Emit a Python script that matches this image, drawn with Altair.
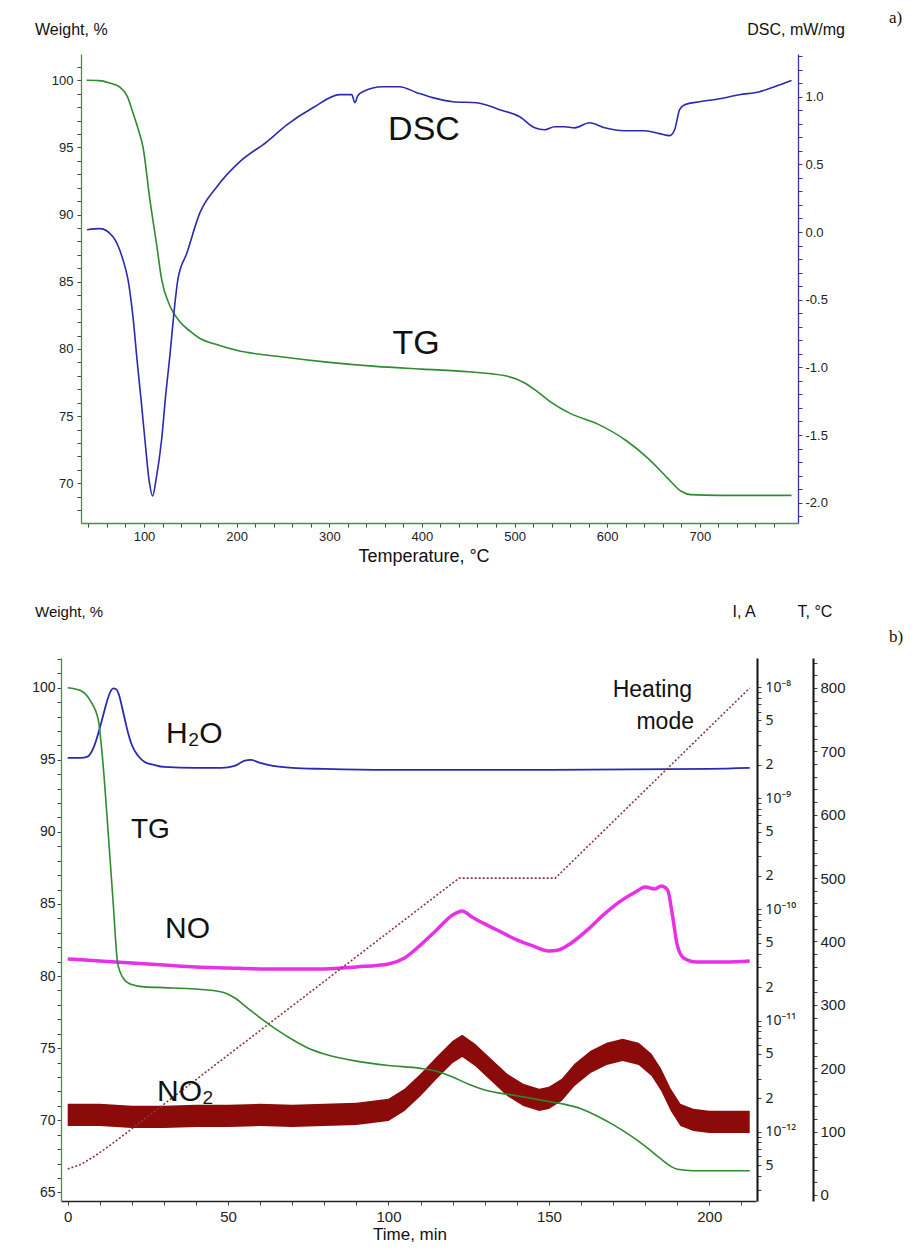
import altair as alt
import pandas as pd

# ---------------- Panel a) : TG / DSC vs temperature ----------------
tg_a_temp = [38, 52, 63, 74, 82, 88, 94, 99, 106, 114, 119, 128, 139, 150, 160, 180, 200, 250, 300, 350,
             400, 450, 490, 510, 525, 540, 560, 590, 620, 645, 665, 680, 690, 720, 799]
tg_a_weight = [100, 99.98, 99.8, 99.5, 98.8, 97.6, 96.3, 95.0, 91.3, 87.6, 85.2, 83.2, 82.0, 81.3, 80.8, 80.3,
               79.9, 79.4, 79.0, 78.7, 78.5, 78.3, 78.0, 77.5, 76.8, 76.0, 75.2, 74.4, 73.2, 71.8, 70.4, 69.4,
               69.15, 69.1, 69.1]

dsc_temp = [38.5, 52.5, 66.5, 77.3, 82.7, 88, 93, 97, 101, 105.4, 109.3, 113, 119, 123.5, 128, 132, 136.6,
            146.3, 160.4, 178.7, 203.5, 232.6, 254.2, 282.3, 311.4, 324.3, 327.6, 330.8, 336.2, 357.8, 376,
            394.5, 411.7, 433.3, 459.2, 484, 505.6, 521.8, 532.5, 543.3, 554, 564.9, 581, 597.3, 618.8, 640.4,
            656.6, 667.4, 672.8, 678.2, 683.6, 699.8, 721.3, 742.9, 764.5, 780.7, 799]
dsc_value = [0.017, 0.025, -0.035, -0.205, -0.35, -0.62, -0.98, -1.25, -1.535, -1.83, -1.95, -1.83, -1.535,
             -1.2, -0.91, -0.62, -0.35, -0.155, 0.143, 0.335, 0.52, 0.667, 0.792, 0.918, 1.015, 1.015, 0.956,
             1.007, 1.037, 1.074, 1.074, 1.03, 0.993, 0.963, 0.955, 0.904, 0.852, 0.77, 0.756, 0.778, 0.778,
             0.77, 0.807, 0.77, 0.748, 0.748, 0.727, 0.712, 0.756, 0.904, 0.941, 0.963, 0.985, 1.015, 1.037,
             1.074, 1.12]

# ---------------- Panel b) : TG / MS ion currents / heating vs time ----------------
tg_b_time = [0, 4, 7, 9.5, 10.9, 12.6, 14.2, 15.5, 16.5, 17.5, 19, 21, 24, 30, 40, 48, 52, 56, 60, 65,
             70, 75, 80, 90, 100, 110, 115, 120, 125, 130, 140, 150, 155, 160, 165, 170, 175, 180, 185, 188,
             190, 195, 212.6]
tg_b_weight = [100, 99.8, 99.1, 97.8, 95.0, 90.0, 85.0, 81.0, 80.2, 79.8, 79.5, 79.35, 79.25, 79.2, 79.1,
               78.9, 78.5, 77.8, 77.1, 76.3, 75.6, 75.0, 74.6, 74.1, 73.8, 73.6, 73.4, 73.0, 72.5, 72.1, 71.7,
               71.3, 71.1, 70.8, 70.3, 69.7, 69.0, 68.2, 67.3, 66.8, 66.6, 66.5, 66.5]

# ion currents, given as log10(I / A)
h2o_time = [0, 4, 6, 8, 10, 11, 12, 13, 14.2, 15, 16, 17, 18, 19, 20, 22, 24, 27, 30, 40, 48, 52, 55, 57,
            60, 64, 70, 80, 100, 150, 200, 212.6]
h2o_log_i = [-8.638, -8.638, -8.629, -8.549, -8.369, -8.261, -8.153, -8.063, -8.013, -8.018, -8.072, -8.189,
             -8.315, -8.432, -8.522, -8.621, -8.674, -8.701, -8.719, -8.728, -8.728, -8.710, -8.665, -8.656,
             -8.683, -8.710, -8.728, -8.737, -8.746, -8.746, -8.737, -8.728]

no_time = [0, 10, 20, 30, 40, 50, 60, 70, 80, 90, 100, 105, 110, 115, 120, 123, 126, 130, 135, 140, 145,
           150, 153, 157, 162, 167, 172, 177, 180, 183, 185, 187, 188.5, 190, 192, 196, 205, 212.6]
no_log_i = [-10.446, -10.464, -10.482, -10.500, -10.518, -10.527, -10.536, -10.536, -10.536, -10.518,
            -10.491, -10.437, -10.320, -10.185, -10.050, -10.014, -10.068, -10.131, -10.203, -10.275,
            -10.329, -10.374, -10.365, -10.302, -10.185, -10.050, -9.933, -9.844, -9.799, -9.817, -9.790,
            -9.826, -10.050, -10.320, -10.437, -10.473, -10.473, -10.464]

# NO2 signal is very noisy: upper / lower edge of its dense band
no2_time = [0, 10, 20, 30, 40, 50, 60, 70, 80, 90, 100, 105, 110, 115, 120, 123, 127, 132, 137, 142, 147,
            150, 154, 158, 163, 168, 173, 178, 182, 185, 188, 191, 195, 200, 205, 212.6]
no2_log_i_high = [-11.749, -11.749, -11.767, -11.767, -11.758, -11.758, -11.749, -11.758, -11.749, -11.740,
                  -11.704, -11.614, -11.479, -11.326, -11.182, -11.129, -11.209, -11.344, -11.479, -11.569,
                  -11.614, -11.596, -11.524, -11.389, -11.272, -11.200, -11.164, -11.200, -11.299, -11.434,
                  -11.614, -11.749, -11.794, -11.812, -11.812, -11.812]
no2_log_i_low = [-11.949, -11.949, -11.967, -11.967, -11.958, -11.958, -11.949, -11.958, -11.949, -11.940,
                 -11.904, -11.814, -11.679, -11.526, -11.382, -11.329, -11.409, -11.544, -11.679, -11.769,
                 -11.814, -11.796, -11.724, -11.589, -11.472, -11.400, -11.364, -11.400, -11.499, -11.634,
                 -11.814, -11.949, -11.994, -12.012, -12.012, -12.012]

heat_time = [0, 4, 8, 12, 16, 122, 152, 212.6]
heat_temp = [41, 48, 60, 74, 89, 500, 500, 800]

# tick values
ticks_a_x = list(range(40, 781, 20))
ticks_a_w = list(range(68, 102))
ticks_a_dsc = [round(-2.1 + 0.1 * k, 1) for k in range(35)]
ticks_b_x = list(range(0, 211, 10))
ticks_b_w = list(range(65, 103))
ticks_b_t = list(range(0, 841, 20))
ticks_b_i = [m * 10.0 ** e for e in range(-13, -7) for m in range(1, 10)
             if 2.4e-13 <= m * 10.0 ** e <= 1.8e-8]

# ---------------- tables ----------------
df_tg_a = pd.DataFrame({"T": tg_a_temp, "w": tg_a_weight})
df_dsc = pd.DataFrame({"T": dsc_temp, "dsc": dsc_value})
df_tg_b = pd.DataFrame({"t": tg_b_time, "w": tg_b_weight})
df_h2o = pd.DataFrame({"t": h2o_time, "I": [10 ** v for v in h2o_log_i]})
df_no = pd.DataFrame({"t": no_time, "I": [10 ** v for v in no_log_i]})
df_no2 = pd.DataFrame({"t": no2_time, "hi": [10 ** v for v in no2_log_i_high],
                       "lo": [10 ** v for v in no2_log_i_low]})
df_heat = pd.DataFrame({"t": heat_time, "T": heat_temp})

# ---------------- styling ----------------
FONT = "Liberation Sans"
W, H = 737, 1147
GREEN = "#2e8b2e"
BLUE = "#2a2ab0"
MAGENTA = "#e830e8"
DARKRED = "#8b0a0a"
HEAT = "#8b3a3a"


def axis(**kw):
    base = dict(grid=False, labelFont=FONT, labelColor="#222222", tickSize=4, tickWidth=1,
                labelOverlap=False, labelFlush=False, domainWidth=1.3, tickColor="#444444",
                labelFontSize=13, title=None)
    base.update(kw)
    return alt.Axis(**base)


def every(n):
    return f"datum.value % {n} == 0 ? '' + datum.value : ''"


E = "floor(log(datum.value)/LN10+0.000001)"
M = f"round(datum.value/pow(10,{E}))"
SUP = (f"({E}==-8?'⁻⁸':{E}==-9?'⁻⁹':{E}==-10?'⁻¹⁰':{E}==-11?'⁻¹¹':{E}==-12?'⁻¹²':'⁻¹³')")
LOG_LABEL = f"{M}==1 ? '10'+{SUP} : (({M}==2)||({M}==5) ? ''+{M} : '')"
DSC_LABEL = ("abs(datum.value*2 - round(datum.value*2)) < 0.001 ? "
             "replace(format(datum.value, '.1f'), '\u2212', '-') : ''")

sx_a = alt.Scale(domain=[32, 806], range=[20, W], nice=False, zero=False)
sy_a_w = alt.Scale(domain=[67.04, 101.96], range=[469, 0], nice=False, zero=False)
sy_a_d = alt.Scale(domain=[-2.15, 1.3155], range=[469, 0], nice=False, zero=False)
sx_b = alt.Scale(domain=[-2.09, 214.56], range=[0, 695], nice=False, zero=False)
sy_b_w = alt.Scale(domain=[64.40, 102.06], range=[H, 604], nice=False, zero=False)
sy_b_i = alt.Scale(type="log", domain=[2.38e-13, 1.824e-8], range=[H, 604], nice=False)
sy_b_t = alt.Scale(domain=[-9.47, 847.3], range=[H, 604], nice=False, zero=False)

# ---------------- panel a layers ----------------
tg_a = alt.Chart(df_tg_a).mark_line(color=GREEN, strokeWidth=1.6, interpolate="monotone").encode(
    x=alt.X("T:Q", scale=sx_a, axis=axis(orient="bottom", offset=-678, values=ticks_a_x,
                                          labelExpr=every(100), domainColor="#3a9a3a", labelPadding=3)),
    y=alt.Y("w:Q", scale=sy_a_w, axis=axis(orient="left", offset=-20, values=ticks_a_w,
                                            labelExpr=every(5), domainColor="#3a9a3a", labelPadding=4)),
)
dsc = alt.Chart(df_dsc).mark_line(color=BLUE, strokeWidth=1.6, interpolate="monotone").encode(
    x=alt.X("T:Q", scale=sx_a, axis=None),
    y=alt.Y("dsc:Q", scale=sy_a_d, axis=axis(orient="right", offset=0, values=ticks_a_dsc,
                                              labelExpr=DSC_LABEL, domainColor="#3535a5",
                                              tickColor="#3535a5", labelPadding=3)),
)

# ---------------- panel b layers ----------------
no2 = alt.Chart(df_no2).mark_area(color=DARKRED, interpolate="linear").encode(
    x=alt.X("t:Q", scale=sx_b, axis=None),
    y=alt.Y("lo:Q", scale=sy_b_i, axis=None),
    y2="hi:Q",
)
no = alt.Chart(df_no).mark_line(color=MAGENTA, strokeWidth=3.5, interpolate="monotone").encode(
    x=alt.X("t:Q", scale=sx_b, axis=None),
    y=alt.Y("I:Q", scale=sy_b_i, axis=None),
)
h2o = alt.Chart(df_h2o).mark_line(color=BLUE, strokeWidth=1.8, interpolate="monotone").encode(
    x=alt.X("t:Q", scale=sx_b, axis=None),
    y=alt.Y("I:Q", scale=sy_b_i, axis=axis(orient="right", offset=-41, values=ticks_b_i,
                                            labelExpr=LOG_LABEL, domainColor="#111111", domainWidth=2,
                                            labelFont="Noto Sans", labelFontSize=14, labelPadding=4)),
)
heat = alt.Chart(df_heat).mark_line(color=HEAT, strokeWidth=1.6, strokeDash=[2, 2]).encode(
    x=alt.X("t:Q", scale=sx_b, axis=None),
    y=alt.Y("T:Q", scale=sy_b_t, axis=axis(orient="right", offset=15, values=ticks_b_t,
                                            labelExpr=every(100), domainColor="#111111", domainWidth=2,
                                            labelFontSize=15, labelPadding=3)),
)
tg_b = alt.Chart(df_tg_b).mark_line(color=GREEN, strokeWidth=1.6, interpolate="monotone").encode(
    x=alt.X("t:Q", scale=sx_b, axis=axis(orient="bottom", offset=0, values=ticks_b_x, labelExpr=every(50),
                                          domainColor="#222222", labelFontSize=15, labelPadding=4)),
    y=alt.Y("w:Q", scale=sy_b_w, axis=axis(orient="left", offset=0, values=ticks_b_w, labelExpr=every(5),
                                            domainColor="#3a9a3a", labelFontSize=14, labelPadding=2)),
)


# ---------------- text ----------------
def label(text, x, y, size, align="left", font=FONT, color="#111111"):
    return alt.Chart(pd.DataFrame({"label": [text]})).mark_text(
        align=align, baseline="middle", font=font, fontSize=size, color=color
    ).encode(x=alt.value(x), y=alt.value(y), text="label:N")


texts = [
    label("Weight, %", -26, -24, 16),
    label("DSC, mW/mg", 784, -24, 16, align="right"),
    label("a)", 828, -36, 17, font="Liberation Serif"),
    label("DSC", 363, 76, 34, align="center"),
    label("TG", 355, 290, 34, align="center"),
    label("Temperature, °C", 363, 503, 18, align="center"),
    label("Weight, %", -26, 558, 15),
    label("I, A", 683, 558, 16, align="center"),
    label("T, °C", 754, 558, 16, align="center"),
    label("b)", 828, 583, 17, font="Liberation Serif"),
    label("H₂O", 105, 680, 30),
    label("TG", 70, 776, 28),
    label("NO", 104, 875, 30),
    label("NO₂", 96, 1038, 30),
    label("Heating", 631, 636, 23, align="right"),
    label("mode", 633, 668, 23, align="right"),
    label("Time, min", 349, 1181, 17, align="center"),
]

chart = alt.layer(
    tg_a, dsc, no2, no, h2o, heat, tg_b, *texts
).resolve_scale(
    x="independent", y="independent"
).properties(
    width=W, height=H,
    autosize=alt.AutoSizeParams(type="none"),
    padding={"left": 53, "top": 46, "right": 111, "bottom": 44},
    background="white",
).configure_view(stroke=None)

chart.save("out.html", embed_options={"renderer": "svg", "actions": False})
